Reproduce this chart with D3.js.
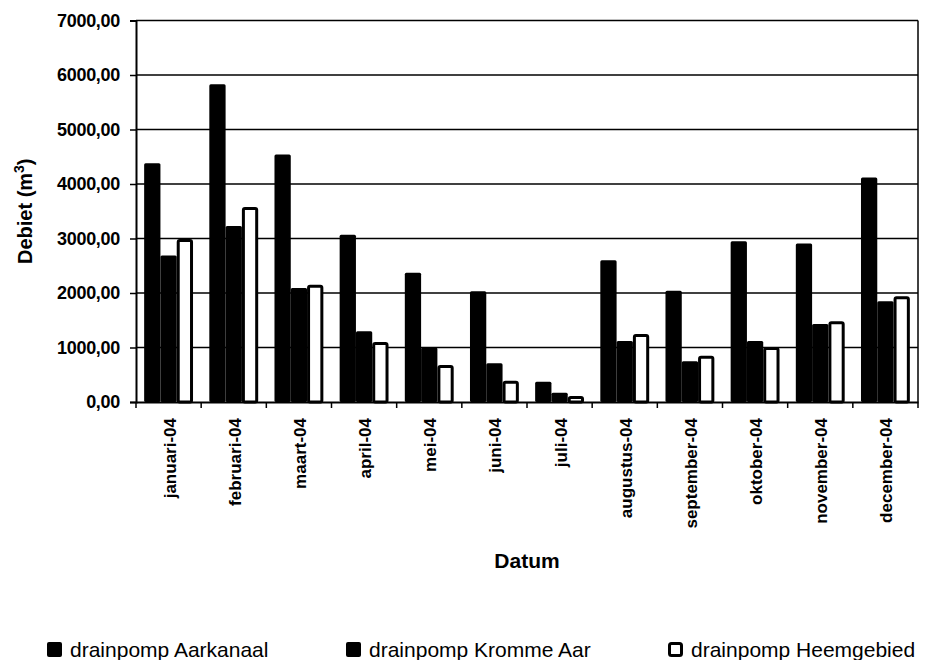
<!DOCTYPE html>
<html>
<head>
<meta charset="utf-8">
<script src="https://cdn.jsdelivr.net/npm/d3@7"></script>
<style>
  body { margin: 0; background: #fff; }
  text { font-family: "Liberation Sans", Arial, sans-serif; fill: #000; }
</style>
</head>
<body>
<script>
const w = 925;
const h = 660;

// data
const months = ["januari-04", "februari-04", "maart-04", "april-04", "mei-04", "juni-04",
                "juli-04", "augustus-04", "september-04", "oktober-04", "november-04", "december-04"];
const seriesNames = ["drainpomp Aarkanaal", "drainpomp Kromme Aar", "drainpomp Heemgebied"];
const aarkanaal   = [4380, 5830, 4540, 3070, 2370, 2030, 370, 2600, 2040, 2950, 2910, 4120];
const krommeAar   = [2690, 3230, 2090, 1300, 1000, 710, 170, 1120, 750, 1120, 1430, 1850];
const heemgebied  = [2990, 3580, 2150, 1100, 680, 390, 110, 1250, 850, 1010, 1480, 1940];
const yTicks = [0, 1000, 2000, 3000, 4000, 5000, 6000, 7000];

const series = [aarkanaal, krommeAar, heemgebied];
const fills = ["#000", "#000", "#fff"];

const plotLeft = 136, plotRight = 918, plotTop = 20.5, plotBottom = 402;

const svg = d3.select("body")
    .append("svg")
    .attr("width", w)
    .attr("height", h);

const xScale = d3.scaleBand()
    .domain(months)
    .range([plotLeft, plotRight])
    .paddingInner(0.25)
    .paddingOuter(0.125);

const xSub = d3.scaleBand()
    .domain(d3.range(series.length))
    .range([0, xScale.bandwidth()]);

const yScale = d3.scaleLinear()
    .domain([0, 7000])
    .range([plotBottom, plotTop]);

const fmt = d => d3.format(".2f")(d).replace(".", ",");

// gridlines
svg.append("g")
    .selectAll("line")
    .data(yTicks.slice(1))
    .enter()
    .append("line")
        .attr("x1", plotLeft)
        .attr("x2", plotRight)
        .attr("y1", d => yScale(d))
        .attr("y2", d => yScale(d))
        .attr("stroke", "#000")
        .attr("stroke-width", 1.5);

// right border of plot area
svg.append("line")
    .attr("x1", plotRight).attr("x2", plotRight)
    .attr("y1", plotTop).attr("y2", plotBottom)
    .attr("stroke", "#000")
    .attr("stroke-width", 1.5);

// bars
const groups = svg.append("g")
    .selectAll("g")
    .data(months)
    .enter()
    .append("g")
    .attr("transform", d => `translate(${xScale(d)},0)`);

groups.selectAll("rect")
    .data((m, i) => series.map((s, k) => ({k: k, v: s[i]})))
    .enter()
    .append("rect")
        .attr("x", d => xSub(d.k) + (d.k === 2 ? 1.5 : 0))
        .attr("y", d => yScale(d.v) + (d.k === 2 ? 1.5 : 0))
        .attr("width", d => xSub.bandwidth() - (d.k === 2 ? 3 : 0))
        .attr("height", d => plotBottom - yScale(d.v) - (d.k === 2 ? 1.5 : 0))
        .attr("fill", d => fills[d.k])
        .attr("stroke", d => d.k === 2 ? "#000" : "none")
        .attr("stroke-width", 3)
        .attr("rx", 1.5);

// axes
const yAxis = d3.axisLeft(yScale)
    .tickValues(yTicks)
    .tickFormat(fmt)
    .tickSize(6)
    .tickPadding(10);

const yg = svg.append("g")
    .attr("transform", `translate(${plotLeft},0)`)
    .call(yAxis);
yg.select(".domain").attr("stroke-width", 2);
yg.selectAll("line").attr("stroke-width", 1.5);
yg.selectAll("text")
    .style("font-size", "18px")
    .style("font-weight", "bold")
    .style("letter-spacing", "-0.3px");

const xAxis = d3.axisBottom(xScale).tickSize(0).tickPadding(0);
const xg = svg.append("g")
    .attr("transform", `translate(0,${plotBottom})`)
    .call(xAxis);
xg.select(".domain").attr("stroke-width", 2);
xg.selectAll(".tick text")
    .attr("transform", "rotate(-90)")
    .attr("x", -16)
    .attr("y", 1)
    .attr("dy", "0.35em")
    .attr("text-anchor", "end")
    .style("font-size", "17px")
    .style("font-weight", "bold");

// category boundary ticks
svg.append("g")
    .selectAll("line")
    .data(d3.range(months.length + 1))
    .enter()
    .append("line")
        .attr("x1", i => plotLeft + i * xScale.step())
        .attr("x2", i => plotLeft + i * xScale.step())
        .attr("y1", plotBottom)
        .attr("y2", plotBottom + 6)
        .attr("stroke", "#000")
        .attr("stroke-width", 1.5);

// axis titles
const yTitle = svg.append("text")
    .attr("transform", `translate(32,${(plotTop + plotBottom) / 2}) rotate(-90)`)
    .attr("text-anchor", "middle")
    .style("font-size", "20px")
    .style("font-weight", "bold");
yTitle.append("tspan").text("Debiet (m");
yTitle.append("tspan").text("3").attr("dy", -8).style("font-size", "14px");
yTitle.append("tspan").text(")").attr("dy", 8);

svg.append("text")
    .attr("x", (plotLeft + plotRight) / 2)
    .attr("y", 568)
    .attr("text-anchor", "middle")
    .style("font-size", "21px")
    .style("font-weight", "bold")
    .text("Datum");

// legend
const legendX = [47, 346, 668];
const legend = svg.append("g")
    .selectAll("g")
    .data(seriesNames)
    .enter()
    .append("g")
    .attr("transform", (d, i) => `translate(${legendX[i]},642)`);

legend.append("rect")
    .attr("x", (d, i) => i === 2 ? 1.5 : 0)
    .attr("y", (d, i) => i === 2 ? 1.5 : 0)
    .attr("width", (d, i) => i === 2 ? 12 : 15)
    .attr("height", (d, i) => i === 2 ? 12 : 15)
    .attr("rx", 2)
    .attr("fill", (d, i) => fills[i])
    .attr("stroke", (d, i) => i === 2 ? "#000" : "none")
    .attr("stroke-width", 3);

legend.append("text")
    .attr("x", 23)
    .attr("y", 15)
    .style("font-size", "21px")
    .text(d => d);
</script>
</body>
</html>
